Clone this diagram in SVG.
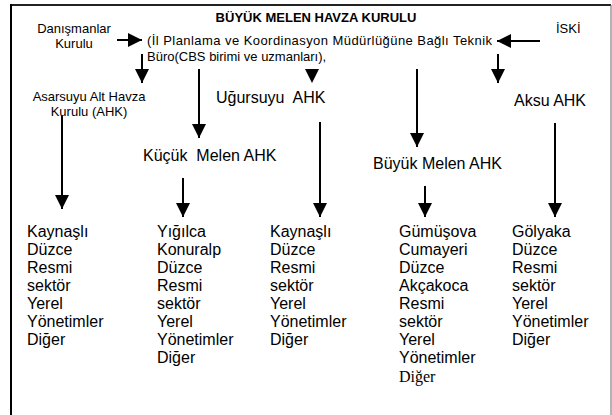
<svg xmlns="http://www.w3.org/2000/svg" width="612" height="415" viewBox="0 0 612 415">
<style>
  text { font-family: "Liberation Sans", Arial, sans-serif; fill: #000; }
  .s13 { font-size: 13px; }
  .s16 { font-size: 16px; }
  .b { font-weight: bold; }
  .c { text-anchor: middle; }
  .serif { font-family: "Liberation Serif", "Times New Roman", serif; }
  .ln { stroke: #000; stroke-width: 2; fill: none; }
</style>
<defs>
  <marker id="ah" viewBox="0 0 14 14" refX="14" refY="7" markerWidth="14" markerHeight="14" markerUnits="userSpaceOnUse" orient="auto">
    <path d="M0,0 L14,7 L0,14 Z" fill="#000"/>
  </marker>
</defs>
<rect x="0" y="0" width="612" height="415" fill="#fff"/>
<g id="frame">
  <line x1="11" y1="5" x2="611" y2="5" stroke="#222" stroke-width="2"/>
  <line x1="11" y1="4" x2="11" y2="415" stroke="#000" stroke-width="2"/>
  <line x1="611" y1="5" x2="611" y2="415" stroke="#666" stroke-width="1"/>
</g>
<g id="connectors">
  <line class="ln" x1="117" y1="40" x2="142" y2="40" marker-end="url(#ah)"/>
  <line class="ln" x1="540" y1="41" x2="497" y2="41" marker-end="url(#ah)"/>
  <line class="ln" x1="142" y1="54" x2="142" y2="83" marker-end="url(#ah)"/>
  <line class="ln" x1="199" y1="69" x2="199" y2="138" marker-end="url(#ah)"/>
  <path d="M305,69 L319,69 L312,83 Z" fill="#000"/>
  <line class="ln" x1="417" y1="69" x2="417" y2="147" marker-end="url(#ah)"/>
  <line class="ln" x1="498" y1="54" x2="498" y2="83" marker-end="url(#ah)"/>
  <line class="ln" x1="62" y1="116" x2="62" y2="209" marker-end="url(#ah)"/>
  <line class="ln" x1="183" y1="178" x2="183" y2="217" marker-end="url(#ah)"/>
  <line class="ln" x1="320" y1="122" x2="320" y2="217" marker-end="url(#ah)"/>
  <line class="ln" x1="425" y1="186" x2="425" y2="217" marker-end="url(#ah)"/>
  <line class="ln" x1="555" y1="123" x2="555" y2="217" marker-end="url(#ah)"/>
</g>
<g id="danismanlar">
  <text class="s13 c" x="74" y="33">Danışmanlar</text>
  <text class="s13 c" x="74" y="48">Kurulu</text>
</g>
<g id="buyuk-melen-havza-kurulu">
  <text class="s13 b c" x="316" y="22">BÜYÜK MELEN HAVZA KURULU</text>
  <text class="s13" x="147" y="45" textLength="345" lengthAdjust="spacing">(İl Planlama ve Koordinasyon Müdürlüğüne Bağlı Teknik</text>
  <text class="s13" x="147" y="61">Büro(CBS birimi ve uzmanları),</text>
</g>
<g id="iski">
  <text class="s13" x="556" y="33">İSKİ</text>
</g>
<g id="asarsuyu">
  <text class="s13 c" x="89" y="101">Asarsuyu Alt Havza</text>
  <text class="s13 c" x="89" y="116">Kurulu (AHK)</text>
</g>
<g id="ugursuyu">
  <text class="s16" x="216" y="103" xml:space="preserve">Uğursuyu  AHK</text>
</g>
<g id="aksu">
  <text class="s16" x="514" y="106">Aksu AHK</text>
</g>
<g id="kucuk-melen">
  <text class="s16" x="143" y="161" xml:space="preserve">Küçük  Melen AHK</text>
</g>
<g id="buyuk-melen">
  <text class="s16" x="373" y="169">Büyük Melen AHK</text>
</g>
<g id="list-asarsuyu">
  <text class="s16" x="27" y="237">Kaynaşlı</text>
  <text class="s16" x="27" y="255">Düzce</text>
  <text class="s16" x="27" y="273">Resmi</text>
  <text class="s16" x="27" y="291">sektör</text>
  <text class="s16" x="27" y="309">Yerel</text>
  <text class="s16" x="27" y="327">Yönetimler</text>
  <text class="s16" x="27" y="345">Diğer</text>
</g>
<g id="list-kucuk-melen">
  <text class="s16" x="157" y="237">Yığılca</text>
  <text class="s16" x="157" y="255">Konuralp</text>
  <text class="s16" x="157" y="273">Düzce</text>
  <text class="s16" x="157" y="291">Resmi</text>
  <text class="s16" x="157" y="309">sektör</text>
  <text class="s16" x="157" y="327">Yerel</text>
  <text class="s16" x="157" y="345">Yönetimler</text>
  <text class="s16" x="157" y="363">Diğer</text>
</g>
<g id="list-ugursuyu">
  <text class="s16" x="270" y="237">Kaynaşlı</text>
  <text class="s16" x="270" y="255">Düzce</text>
  <text class="s16" x="270" y="273">Resmi</text>
  <text class="s16" x="270" y="291">sektör</text>
  <text class="s16" x="270" y="309">Yerel</text>
  <text class="s16" x="270" y="327">Yönetimler</text>
  <text class="s16" x="270" y="345">Diğer</text>
</g>
<g id="list-buyuk-melen">
  <text class="s16" x="399" y="237">Gümüşova</text>
  <text class="s16" x="399" y="255">Cumayeri</text>
  <text class="s16" x="399" y="273">Düzce</text>
  <text class="s16" x="399" y="291">Akçakoca</text>
  <text class="s16" x="399" y="309">Resmi</text>
  <text class="s16" x="399" y="327">sektör</text>
  <text class="s16" x="399" y="345">Yerel</text>
  <text class="s16" x="399" y="363">Yönetimler</text>
  <text class="s16 serif" x="399" y="382">Diğer</text>
</g>
<g id="list-aksu">
  <text class="s16" x="512" y="237">Gölyaka</text>
  <text class="s16" x="512" y="255">Düzce</text>
  <text class="s16" x="512" y="273">Resmi</text>
  <text class="s16" x="512" y="291">sektör</text>
  <text class="s16" x="512" y="309">Yerel</text>
  <text class="s16" x="512" y="327">Yönetimler</text>
  <text class="s16" x="512" y="345">Diğer</text>
</g>
</svg>
